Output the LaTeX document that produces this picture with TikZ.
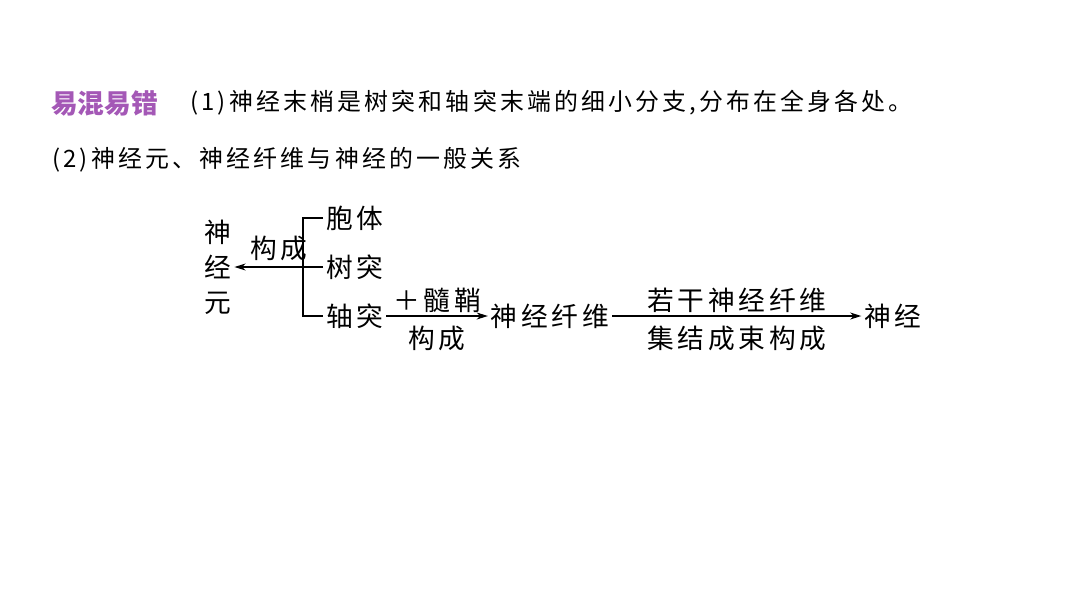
\documentclass[tikz,border=0pt]{standalone}
\usepackage{fontspec}
\newfontfamily\cjk{Noto Sans CJK SC}
\newfontfamily\cjkline[LetterSpace=13]{Noto Sans CJK SC}
\newfontfamily\cjkword[LetterSpace=14]{Noto Sans CJK SC}
\usetikzlibrary{positioning, arrows.meta}
\definecolor{tagpurple}{RGB}{164,88,182}
\tikzset{
  line/.style={font=\cjkline\fontsize{17}{22}\selectfont, anchor=west, inner sep=0pt},
  word/.style={font=\cjkword\fontsize{19}{25}\selectfont, inner sep=2pt},
  link/.style={-{Stealth[length=8pt,width=5pt]}, line width=0.8pt},
}
\begin{document}
\begin{tikzpicture}[x=0.025cm, y=-0.025cm]
\useasboundingbox (0,0) rectangle (1080,607);

% Heading lines
\node[line, font=\cjk\bfseries\fontsize{19}{22}\selectfont, text=tagpurple] (tag) at (51,103) {易混易错};
\node[line] (note1) at (190,103) {(1)\,神经末梢是树突和轴突末端的细小分支,\,分布在全身各处。};
\node[line] (note2) at (52,160) {(2)\,神经元、神经纤维与神经的一般关系};

% Neuron and its parts
\node[word, align=center] (neuron) at (218,267) {神\\经\\元};
\foreach \y/\name/\txt in {218/soma/胞体, 267/dendrite/树突, 316/axon/轴突} {
   \node[word, anchor=west] (\name) at (323,\y) {\txt};
}
\draw[line width=0.8pt] (soma.west) -- ++(-20,0) |- (axon.west);
\draw[link] (dendrite.west) -- (neuron.east) node[word, midway, above=2pt] {构成};

% Fibre and nerve
\node[word] (fibre) at (550,316) {神经纤维};
\node[word] (nerve) at (893,316) {神经};
\draw[link] (axon.east) -- (fibre.west)
   node[word, midway, above] {＋髓鞘}
   node[word, midway, below=5pt] {构成};
\draw[link] (fibre.east) -- (nerve.west)
   node[word, midway, above] {若干神经纤维}
   node[word, midway, below=5pt] {集结成束构成};
\end{tikzpicture}
\end{document}
